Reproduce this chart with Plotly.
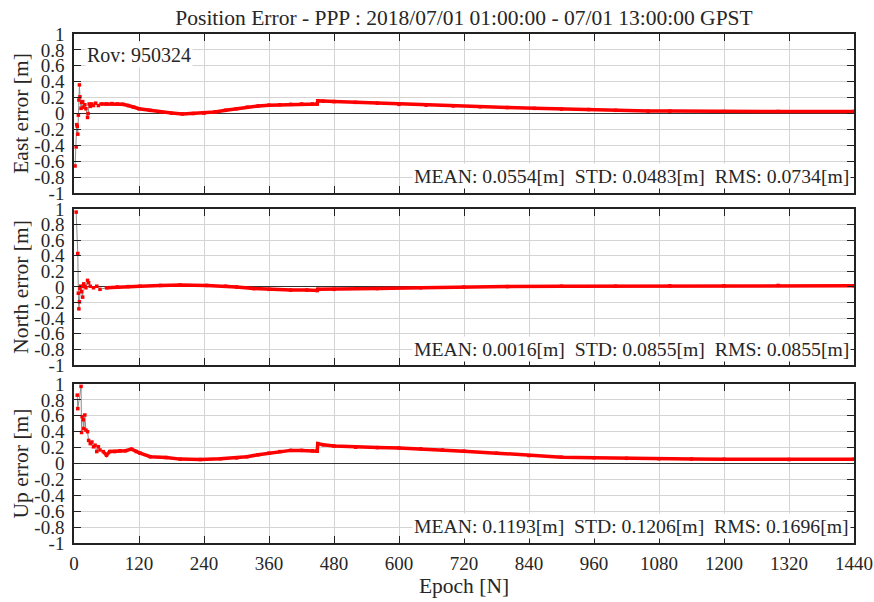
import plotly.graph_objects as go

# ---------------- data ----------------
east_epoch = [2, 4, 5, 6, 7, 8, 9, 10, 11, 13, 14, 16, 17, 20, 22, 25, 26, 28, 30, 33, 36, 40,
              45, 50, 60, 70, 80, 90, 100, 110, 120, 140, 160, 180, 200, 220, 240, 260, 280,
              300, 320, 340, 360, 380, 400, 420, 440, 449, 450, 460, 480, 520, 560, 600, 650,
              700, 750, 800, 850, 900, 950, 1000, 1060, 1100, 1200, 1300, 1440]
east_err = [-0.66, -0.42, -0.14, -0.16, -0.26, -0.02, 0.17, 0.36, 0.21, 0.065, 0.14, 0.15, 0.08,
            0.11, 0.06, -0.05, 0.0, 0.12, 0.09, 0.12, 0.10, 0.13, 0.10, 0.12, 0.12, 0.125, 0.12,
            0.115, 0.10, 0.08, 0.06, 0.04, 0.02, 0.005, -0.005, 0.0, 0.005, 0.02, 0.04, 0.06,
            0.08, 0.095, 0.105, 0.11, 0.115, 0.12, 0.12, 0.12, 0.16, 0.155, 0.15, 0.14, 0.13,
            0.115, 0.105, 0.095, 0.085, 0.075, 0.065, 0.055, 0.05, 0.04, 0.03, 0.03, 0.025,
            0.025, 0.025]

north_epoch = [4, 7, 8, 9, 10, 11, 12, 14, 16, 17, 18, 20, 22, 25, 27, 30, 36, 42, 48, 60, 80,
               100, 122, 160, 196, 245, 280, 300, 332, 360, 400, 430, 449, 450, 480, 560, 640,
               720, 800, 900, 1000, 1100, 1200, 1300, 1440]
north_err = [0.96, 0.43, -0.08, -0.28, -0.19, -0.02, 0.01, -0.06, -0.13, 0.01, 0.04, 0.01, -0.01,
             0.085, 0.055, 0.01, -0.01, 0.01, -0.03, -0.01, 0.0, 0.005, 0.01, 0.02, 0.025, 0.02,
             0.01, 0.0, -0.02, -0.03, -0.04, -0.04, -0.045, -0.03, -0.03, -0.02, -0.01, 0.0,
             0.005, 0.01, 0.01, 0.015, 0.015, 0.02, 0.015]

up_epoch = [6, 7, 13, 14, 15, 17, 18, 20, 22, 25, 27, 30, 33, 36, 39, 42, 45, 48, 54, 60, 66,
            75, 85, 95, 106, 115, 122, 141, 170, 196, 233, 270, 300, 319, 340, 360, 380, 400,
            420, 440, 449, 450, 460, 480, 520, 560, 600, 640, 680, 720, 780, 840, 900, 960,
            1020, 1080, 1140, 1200, 1320, 1440]
up_err = [0.86, 0.69, 0.97, 0.39, 0.59, 0.55, 0.44, 0.61, 0.42, 0.40, 0.29, 0.25, 0.27, 0.21,
          0.23, 0.15, 0.21, 0.17, 0.15, 0.105, 0.15, 0.15, 0.16, 0.16, 0.18, 0.15, 0.13, 0.085,
          0.075, 0.055, 0.05, 0.06, 0.07, 0.085, 0.11, 0.13, 0.15, 0.165, 0.165, 0.16, 0.155,
          0.25, 0.235, 0.22, 0.205, 0.20, 0.195, 0.185, 0.17, 0.155, 0.13, 0.10, 0.08, 0.073,
          0.065, 0.06, 0.057, 0.053, 0.05, 0.053]

stats_text = [
    "MEAN: 0.0554[m]\u00a0\u00a0STD: 0.0483[m]\u00a0\u00a0RMS: 0.0734[m]",
    "MEAN: 0.0016[m]\u00a0\u00a0STD: 0.0855[m]\u00a0\u00a0RMS: 0.0855[m]",
    "MEAN: 0.1193[m]\u00a0\u00a0STD: 0.1206[m]\u00a0\u00a0RMS: 0.1696[m]",
]
y_titles = ["East error [m]", "North error [m]", "Up error [m]"]
y_tickvals = [-1, -0.8, -0.6, -0.4, -0.2, 0, 0.2, 0.4, 0.6, 0.8, 1]
y_ticktext = ["-1", "-0.8", "-0.6", "-0.4", "-0.2", "0", "0.2", "0.4", "0.6", "0.8", "1"]
x_tickvals = [0, 120, 240, 360, 480, 600, 720, 840, 960, 1080, 1200, 1320, 1440]
title_text = "Position Error - PPP : 2018/07/01 01:00:00 - 07/01 13:00:00 GPST"
rover_text = "Rov: 950324"

# ---------------- figure ----------------
FONT = "Liberation Serif"
TXT = "#262626"
W, H = 874, 602
ML, MR, MT, MB = 74, 20, 34, 59
domains = [[0.6876, 1.0], [0.3497, 0.6562], [0.0, 0.3124]]

fig = go.Figure()
series = [(east_epoch, east_err), (north_epoch, north_err), (up_epoch, up_err)]
SMOOTH_FROM = 50

for i, (ep, err) in enumerate(series):
    xa = "x" if i == 0 else f"x{i+1}"
    ya = "y" if i == 0 else f"y{i+1}"
    fig.add_trace(go.Scatter(x=ep, y=err, mode="lines", xaxis=xa, yaxis=ya,
                             line=dict(color="#8c8c8c", width=1), showlegend=False,
                             hoverinfo="skip"))
    sx = [e for e in ep if e >= SMOOTH_FROM]
    sy = [v for e, v in zip(ep, err) if e >= SMOOTH_FROM]
    fig.add_trace(go.Scatter(x=sx, y=sy, mode="lines", xaxis=xa, yaxis=ya,
                             line=dict(color="#ff0000", width=3.5), showlegend=False,
                             hoverinfo="skip"))
    fig.add_trace(go.Scatter(x=ep, y=err, mode="markers", xaxis=xa, yaxis=ya,
                             marker=dict(color="#ff0000", size=3.5, symbol="square",
                                         line=dict(width=0)),
                             showlegend=False))

layout = dict(
    width=W, height=H,
    margin=dict(l=ML, r=MR, t=MT, b=MB, pad=0, autoexpand=False),
    paper_bgcolor="white", plot_bgcolor="white",
    font=dict(family=FONT, size=19, color=TXT),
    title=dict(text=title_text, x=(ML + (W - MR)) / 2 / W, xanchor="center",
               y=1 - 17 / H, yanchor="middle",
               font=dict(family=FONT, size=21.5, color=TXT)),
    showlegend=False,
)

for i in range(3):
    xk = "xaxis" if i == 0 else f"xaxis{i+1}"
    yk = "yaxis" if i == 0 else f"yaxis{i+1}"
    ya = "y" if i == 0 else f"y{i+1}"
    xa = "x" if i == 0 else f"x{i+1}"
    layout[xk] = dict(
        domain=[0, 1], anchor=ya, range=[0, 1440], automargin=False,
        tickvals=x_tickvals, showticklabels=(i == 2), ticklabelstandoff=2,
        ticks="inside", ticklen=7, tickcolor="#222222", tickwidth=1,
        showgrid=True, gridcolor="#d4d4d4", gridwidth=1,
        showline=True, linecolor="#222222", linewidth=1.5, mirror="ticks",
        zeroline=False,
        tickfont=dict(family=FONT, size=19, color=TXT),
    )
    if i != 0:
        layout[xk]["matches"] = "x"
    if i == 2:
        layout[xk]["title"] = dict(text="Epoch [N]", standoff=2,
                                   font=dict(family=FONT, size=21.5, color=TXT))
    layout[yk] = dict(
        domain=domains[i], anchor=xa, range=[-1, 1], automargin=False,
        tickvals=y_tickvals, ticktext=y_ticktext, ticklabelstandoff=4,
        ticks="inside", ticklen=7, tickcolor="#222222", tickwidth=1,
        showgrid=True, gridcolor="#d4d4d4", gridwidth=1,
        showline=True, linecolor="#222222", linewidth=1.5, mirror="ticks",
        zeroline=True, zerolinecolor="#333333", zerolinewidth=1.3,
        tickfont=dict(family=FONT, size=19, color=TXT),
        title=dict(text=y_titles[i], standoff=0,
                   font=dict(family=FONT, size=21.5, color=TXT)),
    )

fig.update_layout(**layout)

annotations = []
for i in range(3):
    xa = "x" if i == 0 else f"x{i+1}"
    ya = "y" if i == 0 else f"y{i+1}"
    annotations.append(dict(
        text=stats_text[i], xref=f"{xa} domain", yref=f"{ya} domain",
        x=0.996, y=0.105, xanchor="right", yanchor="middle", showarrow=False,
        bgcolor="white", borderpad=1,
        font=dict(family=FONT, size=19.7, color=TXT)))
annotations.append(dict(
    text=rover_text, xref="x domain", yref="y domain", x=0.014, y=0.868,
    xanchor="left", yanchor="middle", showarrow=False, bgcolor="white", borderpad=1,
    font=dict(family=FONT, size=20, color=TXT)))
fig.update_layout(annotations=annotations)

fig.write_html("out.html")
